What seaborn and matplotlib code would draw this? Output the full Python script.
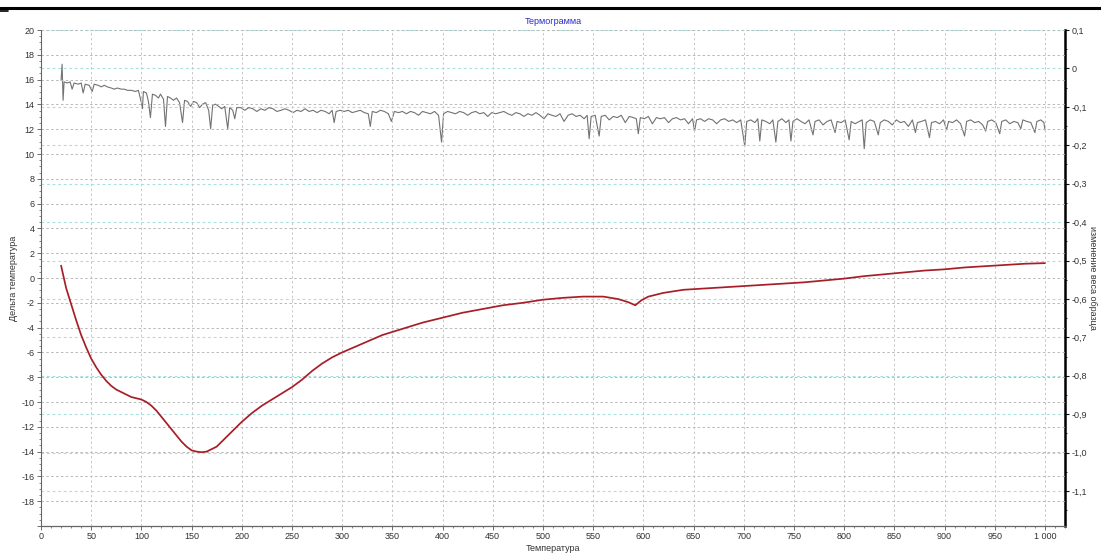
import matplotlib
matplotlib.use("Agg")
import matplotlib.pyplot as plt
from matplotlib.lines import Line2D
from matplotlib.ticker import MultipleLocator, FuncFormatter
import seaborn as sns
import pandas as pd

# ---- data -------------------------------------------------------------
# DTA curve (left axis, "Дельта температура")
dta_t = [20, 25, 30, 35, 40, 45, 50, 55, 60, 65, 70, 75, 80, 85, 90, 95, 100,
         105, 110, 115, 120, 125, 130, 135, 140, 145, 150, 155, 160, 165, 170,
         175, 180, 185, 190, 195, 200, 210, 220, 230, 240, 250, 260, 270, 280,
         290, 300, 320, 340, 360, 380, 400, 420, 440, 460, 480, 500, 520, 540,
         560, 575, 585, 592, 598, 605, 620, 640, 660, 680, 700, 720, 740, 760,
         780, 800, 820, 840, 860, 880, 900, 920, 940, 960, 980, 1000]
dta_v = [1.0, -0.8, -2.1, -3.4, -4.6, -5.6, -6.5, -7.2, -7.8, -8.3, -8.7, -9.0,
         -9.2, -9.4, -9.6, -9.7, -9.8, -10.0, -10.3, -10.7, -11.2, -11.7, -12.2,
         -12.7, -13.2, -13.6, -13.9, -14.0, -14.05, -14.0, -13.8, -13.6, -13.2,
         -12.8, -12.4, -12.0, -11.6, -10.9, -10.3, -9.8, -9.3, -8.8, -8.2, -7.5,
         -6.9, -6.4, -6.0, -5.3, -4.6, -4.1, -3.6, -3.2, -2.8, -2.5, -2.2, -2.0,
         -1.75, -1.6, -1.5, -1.5, -1.7, -1.95, -2.2, -1.8, -1.5, -1.2, -0.95,
         -0.85, -0.75, -0.65, -0.55, -0.45, -0.35, -0.2, -0.05, 0.15, 0.3, 0.45,
         0.6, 0.7, 0.85, 0.95, 1.05, 1.15, 1.2]

# TG curve (right axis, "изменение веса образца")
tg_t = [20, 21, 22, 23, 26, 29, 31, 33, 37, 40, 42, 44, 48, 51, 53, 57, 60, 63,
        66, 70, 73, 76, 80, 83, 86, 90, 94, 97, 100, 101, 102, 105, 107, 109,
        111, 114, 117, 119, 122, 124, 126, 129, 132, 135, 138, 141, 143, 146,
        149, 152, 155, 158, 161, 164, 167, 169, 171, 174, 177, 180, 183, 186,
        188, 191, 193, 195, 199, 203, 207, 211, 215, 219, 223, 227, 231, 235,
        239, 243, 247, 251, 255, 259, 263, 267, 271, 275, 279, 283, 287, 290,
        292, 294, 298, 302, 306, 310, 314, 318, 322, 326, 328, 330, 334, 338,
        342, 346, 349, 352, 356, 360, 364, 368, 372, 376, 380, 384, 388, 392,
        396, 399, 401, 405, 409, 413, 417, 421, 425, 429, 433, 437, 441, 445,
        449, 453, 457, 461, 465, 469, 473, 477, 481, 485, 489, 493, 497, 501,
        505, 509, 513, 517, 521, 525, 529, 533, 537, 541, 544, 546, 548, 552,
        556, 558, 562, 566, 570, 574, 578, 582, 586, 590, 593, 595, 597, 601,
        605, 609, 613, 617, 621, 625, 629, 633, 637, 641, 645, 649, 651, 653,
        657, 661, 665, 669, 673, 677, 681, 685, 689, 693, 697, 701, 703, 707,
        711, 714, 716, 718, 722, 726, 729, 732, 734, 738, 742, 745, 747, 749,
        753, 757, 761, 765, 769, 771, 775, 779, 783, 787, 791, 793, 797, 801,
        805, 807, 811, 815, 818, 820, 822, 826, 830, 834, 836, 840, 844, 848,
        852, 856, 860, 864, 868, 871, 873, 877, 881, 885, 887, 891, 895, 899,
        902, 904, 908, 912, 916, 920, 922, 926, 930, 934, 938, 941, 943, 947,
        951, 955, 957, 961, 965, 969, 973, 976, 978, 982, 986, 990, 992, 996,
        999, 1000]
tg_v = [-0.031, 0.011, -0.083, -0.035, -0.038, -0.035, -0.054, -0.038, -0.041,
        -0.038, -0.064, -0.041, -0.044, -0.060, -0.041, -0.044, -0.048, -0.044,
        -0.048, -0.051, -0.054, -0.051, -0.054, -0.054, -0.057, -0.057, -0.060,
        -0.057, -0.089, -0.105, -0.060, -0.064, -0.086, -0.128, -0.067, -0.070,
        -0.077, -0.067, -0.080, -0.151, -0.073, -0.077, -0.083, -0.077, -0.089,
        -0.141, -0.083, -0.086, -0.099, -0.086, -0.089, -0.102, -0.093, -0.089,
        -0.109, -0.157, -0.096, -0.093, -0.099, -0.105, -0.099, -0.157, -0.102,
        -0.109, -0.131, -0.102, -0.102, -0.109, -0.102, -0.105, -0.112, -0.105,
        -0.109, -0.102, -0.105, -0.112, -0.109, -0.105, -0.109, -0.115, -0.109,
        -0.112, -0.105, -0.112, -0.109, -0.115, -0.109, -0.112, -0.118, -0.109,
        -0.141, -0.112, -0.109, -0.112, -0.109, -0.115, -0.112, -0.109, -0.115,
        -0.118, -0.151, -0.112, -0.115, -0.109, -0.112, -0.118, -0.138, -0.112,
        -0.115, -0.112, -0.118, -0.112, -0.115, -0.122, -0.112, -0.115, -0.118,
        -0.112, -0.122, -0.192, -0.118, -0.112, -0.115, -0.118, -0.112, -0.115,
        -0.122, -0.115, -0.112, -0.118, -0.115, -0.125, -0.115, -0.118, -0.115,
        -0.112, -0.118, -0.122, -0.115, -0.118, -0.125, -0.118, -0.122, -0.115,
        -0.122, -0.131, -0.118, -0.122, -0.125, -0.118, -0.138, -0.122, -0.118,
        -0.125, -0.122, -0.131, -0.122, -0.183, -0.125, -0.122, -0.176, -0.125,
        -0.122, -0.134, -0.125, -0.128, -0.122, -0.141, -0.125, -0.128, -0.131,
        -0.170, -0.128, -0.131, -0.125, -0.144, -0.128, -0.131, -0.128, -0.141,
        -0.131, -0.128, -0.134, -0.131, -0.144, -0.131, -0.163, -0.134, -0.131,
        -0.138, -0.131, -0.134, -0.144, -0.134, -0.131, -0.138, -0.134, -0.141,
        -0.134, -0.202, -0.138, -0.134, -0.141, -0.131, -0.189, -0.134, -0.138,
        -0.144, -0.134, -0.192, -0.138, -0.131, -0.141, -0.134, -0.189, -0.138,
        -0.131, -0.138, -0.144, -0.134, -0.173, -0.138, -0.134, -0.147, -0.138,
        -0.134, -0.167, -0.138, -0.141, -0.134, -0.186, -0.138, -0.144, -0.138,
        -0.134, -0.209, -0.141, -0.134, -0.138, -0.173, -0.141, -0.134, -0.138,
        -0.147, -0.134, -0.141, -0.138, -0.151, -0.134, -0.167, -0.141, -0.138,
        -0.134, -0.180, -0.141, -0.138, -0.144, -0.134, -0.160, -0.138, -0.141,
        -0.134, -0.144, -0.176, -0.138, -0.134, -0.141, -0.138, -0.147, -0.163,
        -0.138, -0.134, -0.141, -0.170, -0.138, -0.134, -0.144, -0.138, -0.141,
        -0.157, -0.134, -0.138, -0.141, -0.167, -0.138, -0.134, -0.141, -0.160]

title_text = "Термограмма"
xlabel_text = "Температура"
ylabel_left = "Дельта температура"
ylabel_right = "изменение веса образца"

# ---- style ------------------------------------------------------------
sns.set_theme(style="white")
plt.rcParams["font.family"] = ["Liberation Sans", "DejaVu Sans"]

W, H = 1101, 555
fig = plt.figure(figsize=(W / 100, H / 100), dpi=100)
L, R, T, B = 41, 1065, 30, 526
ax = fig.add_axes([L / W, 1 - B / H, (R - L) / W, (B - T) / H])
ax2 = ax.twinx()

# put primary axis (red curve) above secondary
ax.set_zorder(ax2.get_zorder() + 1)
ax.patch.set_visible(False)
ax2.patch.set_facecolor("white")

dta_df = pd.DataFrame({"t": dta_t, "v": dta_v})
tg_df = pd.DataFrame({"t": tg_t, "v": tg_v})

sns.lineplot(data=tg_df, x="t", y="v", ax=ax2, color="#727272", lw=0.8,
             estimator=None, sort=True)
sns.lineplot(data=dta_df, x="t", y="v", ax=ax, color="#a81e27", lw=1.25,
             estimator=None, sort=True)

ax.set_xlim(0, 1020)
ax.set_ylim(-20, 20)
ax2.set_ylim(-1.191, 0.1)

# ticks
ax.xaxis.set_major_locator(MultipleLocator(50))
ax.xaxis.set_minor_locator(MultipleLocator(10))
ax.yaxis.set_major_locator(MultipleLocator(2))
ax.yaxis.set_minor_locator(MultipleLocator(0.5))
ax2.yaxis.set_major_locator(MultipleLocator(0.1))
ax2.yaxis.set_minor_locator(MultipleLocator(0.05))

ax.xaxis.set_major_formatter(FuncFormatter(
    lambda v, p: "1 000" if round(v) == 1000 else f"{int(round(v))}"))
ax.yaxis.set_major_formatter(FuncFormatter(
    lambda v, p: "" if round(v) == -20 else f"{int(round(v))}"))


def right_fmt(v, p):
    r = round(v, 1)
    if abs(r) < 1e-9:
        return "0"
    return f"{r:.1f}".replace(".", ",")


ax2.yaxis.set_major_formatter(FuncFormatter(right_fmt))

tick_kw = dict(labelsize=6.5, labelcolor="#333333", colors="#555555")
ax.tick_params(axis="both", which="major", direction="out", length=3,
               width=0.6, pad=1.5, bottom=True, left=True, **tick_kw)
ax.tick_params(axis="both", which="minor", direction="out", length=1.5,
               width=0.5, bottom=True, left=True, colors="#555555")
ax2.tick_params(axis="y", which="major", direction="out", length=3,
                width=0.8, pad=1.5, right=True, colors="#111111",
                labelsize=6.5, labelcolor="#333333")
ax2.tick_params(axis="y", which="minor", direction="out", length=1.5,
                width=0.6, right=True, colors="#111111")
ax.set_ylabel("")
ax.set_xlabel("")
ax2.set_ylabel("")

# grids
ax.grid(False)
ax2.grid(False)
for xv in range(50, 1001, 50):
    ax.axvline(xv, color="#c8c8c8", lw=0.7, ls=(0, (2.5, 2.5)), zorder=0)
for yv in range(-18, 21, 2):
    ax.axhline(yv, color="#b8b8b8", lw=0.7, ls=(0, (2.5, 2.5)), zorder=0)
for k in range(-11, 2):
    ax2.axhline(k / 10, color="#a6e0e0", lw=0.8, ls=(0, (2.5, 2.5)), zorder=0)

# spines
for sp in ["top"]:
    ax.spines[sp].set_visible(False)
    ax2.spines[sp].set_visible(False)
ax.spines["left"].set_color("#666666")
ax.spines["left"].set_linewidth(0.8)
ax.spines["bottom"].set_color("#666666")
ax.spines["bottom"].set_linewidth(0.9)
ax.spines["right"].set_visible(False)
ax2.spines["left"].set_visible(False)
ax2.spines["bottom"].set_visible(False)
ax2.spines["right"].set_color("#000000")
ax2.spines["right"].set_linewidth(1.8)

# labels
ax.set_title(title_text, fontsize=6.5, color="#2a2ac8", pad=4)
ax.text(0.5, -0.046, xlabel_text, transform=ax.transAxes, ha="center",
        va="center", fontsize=6.5, color="#333333")
ax.text(-0.027, 0.5, ylabel_left, transform=ax.transAxes, ha="center",
        va="center", rotation=90, fontsize=6.5, color="#333333")
ax.text(1.0265, 0.5, ylabel_right, transform=ax.transAxes, ha="center",
        va="center", rotation=-90, fontsize=6.5, color="#333333")

# top frame line
fig.add_artist(Line2D([0, 1], [1 - 8 / H, 1 - 8 / H], color="black",
                      lw=2.2, transform=fig.transFigure))
fig.add_artist(Line2D([0, 8 / W], [1 - 11 / H, 1 - 11 / H], color="black",
                      lw=1.2, transform=fig.transFigure))

fig.savefig("out.png", dpi=100)
